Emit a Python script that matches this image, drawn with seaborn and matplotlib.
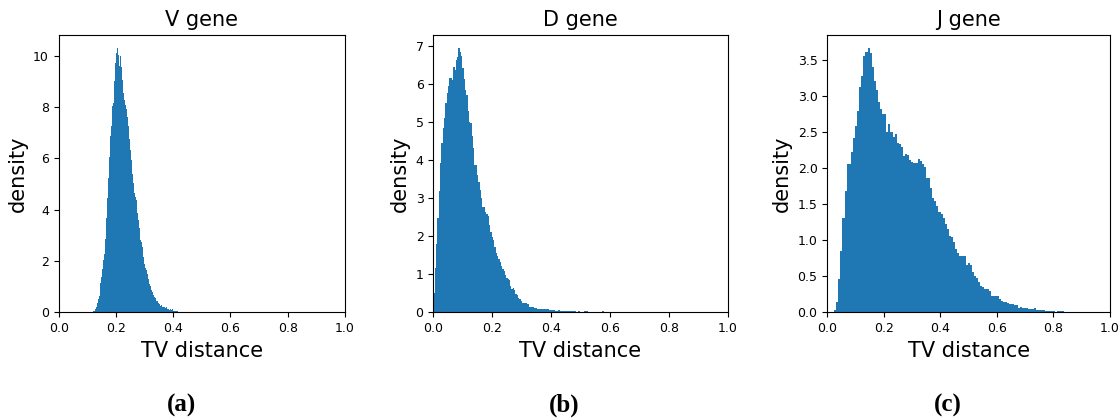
import numpy as np
import pandas as pd
import matplotlib
matplotlib.use("Agg")
import matplotlib.pyplot as plt
import seaborn as sns

# V gene histogram: bins of width 0.0035 starting at 0.1186
v_start = 0.1186
v_width = 0.0035
v_heights = [
    0.04, 0.06, 0.12, 0.22, 0.35, 0.52, 0.62, 1.13, 1.36, 1.70,
    2.04, 2.26, 2.84, 3.66, 4.44, 5.22, 6.06, 6.87, 7.26, 8.04,
    8.17, 9.00, 9.70, 10.12, 10.30, 10.03, 9.60, 10.00, 9.57, 9.05,
    8.53, 8.27, 8.08, 7.91, 7.60, 7.26, 6.74, 6.32, 5.94, 5.39,
    5.03, 4.64, 4.50, 4.38, 3.86, 3.60, 3.27, 2.82, 2.75, 2.56,
    2.17, 1.88, 1.73, 1.65, 1.49, 1.31, 1.10, 1.03, 0.87, 0.79,
    0.68, 0.58, 0.55, 0.45, 0.43, 0.35, 0.32, 0.26, 0.27, 0.22,
    0.22, 0.19, 0.17, 0.19, 0.14, 0.14, 0.10, 0.12, 0.10, 0.13,
    0.06, 0.06, 0.05, 0.05, 0.05,
]

# D gene histogram: bins of width 0.0045 starting at 0.0
d_start = 0.0
d_width = 0.0045
d_heights = [
    0.50, 1.16, 1.80, 2.48, 3.20, 3.94, 4.45, 4.85, 5.11, 5.50,
    5.77, 5.96, 6.16, 6.16, 6.12, 6.45, 6.38, 6.63, 6.73, 6.96,
    6.86, 6.75, 6.43, 6.14, 5.86, 5.72, 5.31, 5.00, 4.98, 4.63,
    4.32, 3.88, 3.88, 3.62, 3.42, 3.22, 3.00, 2.78, 2.78, 2.63,
    2.58, 2.54, 2.30, 2.12, 1.99, 1.91, 1.73, 1.57, 1.47, 1.40,
    1.33, 1.22, 1.13, 1.08, 0.98, 0.90, 0.87, 0.85, 0.69, 0.61,
    0.63, 0.59, 0.48, 0.46, 0.37, 0.34, 0.30, 0.25, 0.25, 0.25,
    0.25, 0.22, 0.14, 0.14, 0.14, 0.14, 0.11, 0.11, 0.09, 0.09,
    0.09, 0.09, 0.09, 0.09, 0.09, 0.09, 0.09, 0.06, 0.06, 0.06,
    0.06, 0.06, 0.03, 0.03, 0.06, 0.06, 0.03, 0.03, 0.03, 0.03,
    0.035, 0.035, 0.035, 0.035, 0.035, 0.035, 0.035, 0.035, 0.0, 0.035,
    0.035, 0.0, 0.0, 0.0, 0.035, 0.035, 0.035, 0.0, 0.0, 0.0,
    0.0, 0.0, 0.0, 0.0, 0.0, 0.0, 0.0, 0.035, 0.035,
]

# J gene histogram: bins of width 0.00738 starting at 0.024
j_start = 0.024
j_width = 0.00738
j_heights = [
    0.03, 0.14, 0.46, 0.85, 1.31, 1.69, 2.06, 2.06, 2.22, 2.42,
    2.59, 2.80, 3.13, 3.28, 3.56, 3.61, 3.67, 3.60, 3.41, 3.21,
    3.08, 2.92, 2.82, 2.75, 2.75, 2.50, 2.62, 2.50, 2.44, 2.47,
    2.35, 2.34, 2.30, 2.17, 2.20, 2.18, 2.12, 2.08, 2.07, 2.07,
    2.13, 2.10, 2.06, 2.02, 1.86, 1.86, 1.73, 1.58, 1.55, 1.48,
    1.39, 1.37, 1.31, 1.23, 1.15, 1.06, 1.04, 0.97, 0.88, 0.83,
    0.78, 0.78, 0.78, 0.65, 0.68, 0.65, 0.56, 0.51, 0.47, 0.42,
    0.36, 0.35, 0.32, 0.32, 0.29, 0.23, 0.22, 0.22, 0.22, 0.185,
    0.16, 0.14, 0.14, 0.125, 0.11, 0.11, 0.10, 0.10, 0.055, 0.07,
    0.055, 0.055, 0.055, 0.046, 0.046, 0.046, 0.06, 0.03, 0.03, 0.03,
    0.03, 0.02, 0.02, 0.02, 0.02, 0.02, 0.0, 0.02, 0.02, 0.02,
]

titles = ["V gene", "D gene", "J gene"]
panel_labels = ["(a)", "(b)", "(c)"]

fig = plt.figure(figsize=(11.2, 4.2), dpi=100)

# axes placement (figure fractions)
rects = [
    [0.0524, 0.2564, 0.2556, 0.661],
    [0.3869, 0.2564, 0.2628, 0.661],
    [0.7387, 0.2564, 0.2524, 0.661],
]
label_x = [0.162, 0.504, 0.846]

series = [
    (v_start, v_width, v_heights),
    (d_start, d_width, d_heights),
    (j_start, j_width, j_heights),
]

for i, (start, width, heights) in enumerate(series):
    ax = fig.add_axes(rects[i])
    n = len(heights)
    df = pd.DataFrame({
        "tv": start + width * (np.arange(n) + 0.5),
        "h": heights,
    })
    sns.histplot(
        data=df,
        x="tv",
        weights="h",
        binwidth=width,
        binrange=(start, start + n * width),
        stat="count",
        color="#1f77b4",
        alpha=1,
        linewidth=0,
        ax=ax,
    )
    ax.set_xlim(0, 1)
    ax.set_title(titles[i], fontsize=15)
    ax.set_xlabel("TV distance", fontsize=15)
    ax.set_ylabel("density", fontsize=15)
    ax.tick_params(labelsize=9)
    fig.text(label_x[i], 0.035, panel_labels[i], ha="center", va="center",
             fontsize=18, fontweight="bold", family="Liberation Serif")

fig.savefig("out.png", dpi=100)
